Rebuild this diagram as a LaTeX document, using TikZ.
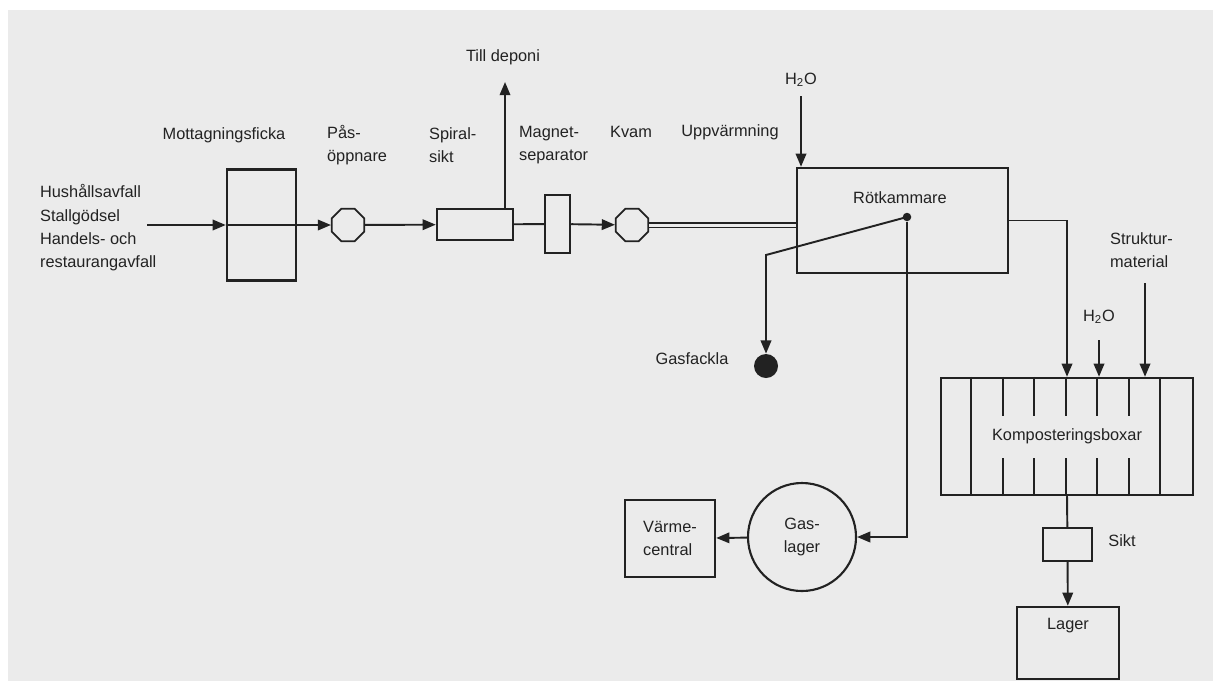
\documentclass[tikz,border=0pt]{standalone}
\usepackage{fontspec}
\setmainfont{Liberation Sans}
\usetikzlibrary{arrows.meta,positioning,shapes.geometric,calc}
\definecolor{ink}{HTML}{222222}
\definecolor{paper}{HTML}{EBEBEB}
\tikzset{
  box/.style={draw=ink,line width=1.4pt,inner sep=2pt,align=left,text=ink},
  oct/.style={regular polygon,regular polygon sides=8,draw=ink,line width=1pt,minimum size=0.70cm,inner sep=0pt},
  flow/.style={-{Triangle[length=7.5pt,width=6pt]},draw=ink,line width=1.1pt},
  pipe/.style={draw=ink,line width=1.1pt},
  lbl/.style={text=ink,align=left,inner sep=1pt},
}
\begin{document}
\begin{tikzpicture}[font=\fontsize{9.3}{13.3}\selectfont]
  \useasboundingbox (0,0) rectangle (24.26,-13.62);
  \fill[white] (0,0) rectangle (24.26,-13.62);
  \fill[paper] (0.16,-0.2) rectangle (24.26,-13.62);
  % feed line
  \node[lbl,anchor=west] (inp) at (0.76,-4.56) {Hushållsavfall\\Stallgödsel\\Handels- och\\restaurangavfall};
  \coordinate (in) at (2.94,-4.50);
  \node[box,minimum width=1.38cm,minimum height=2.22cm] (mott) at (5.23,-4.50) {};
  \node[lbl] (mottl) at (4.48,-2.70) {Mottagningsficka};
  \node[oct] (pop) at (6.96,-4.50) {};
  \node[lbl,anchor=west] (popl) at (6.50,-2.90) {Pås-\\öppnare};
  \node[box,minimum width=1.52cm,minimum height=0.62cm] (spiral) at (9.50,-4.49) {};
  \node[lbl,anchor=west] (spirall) at (8.54,-2.90) {Spiral-\\sikt};
  \coordinate (dep) at (10.10,-1.64);
  \node[lbl] (deponi) at (10.06,-1.14) {Till deponi};
  \node[box,minimum width=0.50cm,minimum height=1.16cm] (magnet) at (11.15,-4.48) {};
  \node[lbl,anchor=west] (magnetl) at (10.34,-2.90) {Magnet-\\separator};
  \node[oct] (kvam) at (12.64,-4.50) {};
  \node[lbl] (kvaml) at (12.62,-2.64) {Kvam};
  \node[lbl] (uppv) at (14.60,-2.64) {Uppvärmning};
  \draw[flow] (in) -- (mott.west);
  \draw[flow] (mott.west) -- (pop);
  \draw[flow] (pop) -- (spiral);
  \draw[flow] (spiral.north -| dep) -- (dep);
  \draw[pipe] (spiral) -- (magnet);
  \draw[flow] (magnet) -- (kvam);
  % digester
  \node[box,minimum width=4.22cm,minimum height=2.10cm] (rot) at (18.05,-4.41) {};
  \node[lbl] (rotl) at (18.00,-3.96) {Rötkammare};
  \node[lbl] (h2oa) at (16.02,-1.60) {H\textsubscript{2}O};
  \draw[flow,shorten <=4pt] (h2oa.south) -- (h2oa.south |- rot.north);
  \draw[draw=ink,line width=0.9pt,double=paper,double distance=1.7pt] (kvam) -- (kvam -| rot.west);
  \node[circle,fill=ink,minimum size=0.17cm,inner sep=0pt] (dot) at (18.14,-4.34) {};
  \coordinate (bend) at (15.32,-5.10);
  \node[circle,fill=ink,minimum size=0.48cm,inner sep=0pt] (fackla) at (15.32,-7.32) {};
  \node[lbl] (facklal) at (13.84,-7.18) {Gasfackla};
  \draw[flow] (dot.center) -- (bend) -- (fackla);
  % gas side
  \node[circle,draw=ink,line width=1.2pt,minimum size=2.16cm,align=center,inner sep=0pt,text=ink] (gasl) at (16.04,-10.74) {Gas-\\lager};
  \node[box,minimum width=1.80cm,minimum height=1.54cm] (varme) at (13.40,-10.77) {Värme-\\central};
  \draw[flow] (dot) |- (gasl);
  \draw[flow] (gasl) -- (varme);
  % compost side
  \node[box,minimum width=5.04cm,minimum height=2.34cm] (komp) at (21.34,-8.73) {Komposteringsboxar};
  \foreach \i in {1,7}
    \draw[line width=1.2pt,ink] ($(komp.north west)+(\i*0.63,0)$) -- ($(komp.south west)+(\i*0.63,0)$);
  \foreach \i in {2,...,6} {
    \draw[line width=1.2pt,ink] ($(komp.north west)+(\i*0.63,0)$) -- ++(0,-0.78);
    \draw[line width=1.2pt,ink] ($(komp.south west)+(\i*0.63,0)$) -- ++(0,0.76);
  }
  \draw[flow] (rot.east) -| (komp.north);
  \node[lbl] (h2ob) at (21.98,-6.34) {H\textsubscript{2}O};
  \draw[flow,shorten <=8pt] (h2ob.south) -- (h2ob.south |- komp.north);
  \node[lbl,anchor=west] (strukt) at (22.16,-5.00) {Struktur-\\material};
  \coordinate (sm) at (22.90,-5.66);
  \draw[flow] (sm) -- (sm |- komp.north);
  \node[box,minimum width=0.98cm,minimum height=0.66cm] (sikt) at (21.35,-10.89) {};
  \node[lbl] (siktl) at (22.44,-10.82) {Sikt};
  \node[box,minimum width=2.04cm,minimum height=1.44cm] (lager) at (21.36,-12.86) {};
  \node[lbl] (lagerl) at ($(lager.north)+(0,-0.40)$) {Lager};
  \draw[pipe] (komp.south) -- (sikt);
  \draw[flow] (sikt) -- (lager);
\end{tikzpicture}
\end{document}
